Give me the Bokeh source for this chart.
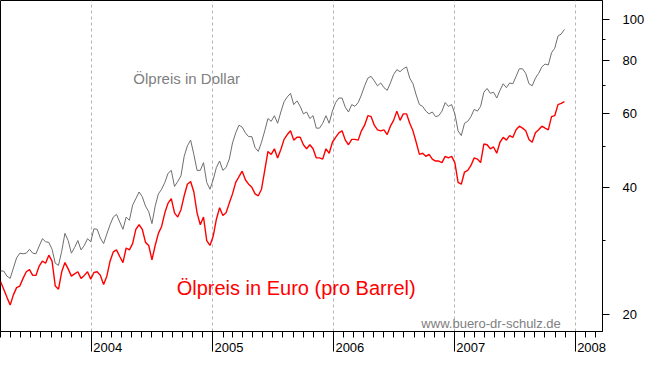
import pandas as pd
from bokeh.plotting import figure
from bokeh.models import Range1d, FixedTicker, PrintfTickFormatter, CustomJSTickFormatter, Label
from bokeh.embed import file_html
from bokeh.resources import INLINE

# ---- data (~10-day steps) ----
start_date = "2003-04-01"
end_date = "2007-11-29"

usd = [25.4, 25.4, 24.7, 24.4, 25.8, 27.3, 28.0, 27.9, 28.0, 28.6,
       28.0, 27.9, 29.1, 30.3, 29.8, 29.7, 28.6, 26.5, 26.2, 28.3,
       31.2, 30.0, 28.0, 28.9, 30.0, 28.5, 29.2, 30.3, 29.8, 32.0,
       31.9, 30.4, 29.5, 31.1, 32.7, 34.1, 34.6, 33.2, 31.9, 34.1,
       33.5, 36.4, 37.7, 39.1, 38.1, 36.2, 35.1, 32.9, 36.2, 38.7,
       39.7, 41.2, 43.3, 44.0, 40.3, 41.4, 42.7, 47.5, 50.3, 51.9,
       48.0, 44.0, 44.0, 45.9, 41.2, 39.7, 41.8, 44.7, 46.3, 44.0,
       44.7, 46.8, 51.1, 54.0, 56.3, 55.7, 54.0, 52.9, 52.9, 49.8,
       48.8, 51.3, 54.6, 58.4, 57.5, 59.3, 56.9, 60.5, 64.0, 65.7,
       67.0, 63.0, 64.3, 62.4, 59.9, 60.5, 58.4, 59.3, 55.4, 55.4,
       56.9, 59.3, 56.9, 60.8, 63.7, 65.3, 65.3, 62.1, 60.5, 63.0,
       62.4, 63.7, 66.4, 69.8, 72.8, 73.5, 71.7, 69.8, 70.9, 69.1,
       68.1, 70.9, 74.3, 76.2, 75.4, 76.6, 77.4, 72.8, 70.6, 66.4,
       63.0, 62.4, 60.8, 59.9, 60.5, 59.0, 59.3, 60.8, 63.7, 62.4,
       63.0, 59.9, 54.6, 53.2, 56.9, 57.5, 59.0, 61.4, 60.8, 62.4,
       67.4, 68.8, 67.0, 67.4, 65.3, 68.1, 70.6, 69.1, 70.9, 70.6,
       73.5, 76.6, 76.6, 74.7, 70.6, 69.8, 72.8, 74.7, 77.4, 78.6,
       78.2, 83.6, 85.7, 91.6, 92.6, 95.0]

eur = [24.0, 23.0, 22.0, 21.1, 22.3, 23.2, 23.4, 24.4, 25.3, 25.6,
       24.8, 24.8, 26.1, 26.8, 26.5, 27.7, 26.8, 23.4, 23.0, 25.3,
       26.6, 25.7, 24.7, 25.0, 25.3, 24.4, 24.8, 25.3, 24.3, 25.2,
       25.3, 24.8, 23.6, 24.7, 26.8, 28.2, 28.5, 27.5, 26.6, 28.8,
       28.5, 29.5, 31.9, 32.7, 31.9, 29.7, 29.2, 27.0, 29.2, 31.2,
       32.4, 34.9, 36.8, 37.7, 34.9, 34.1, 35.5, 38.3, 40.8, 41.4,
       39.1, 34.9, 32.7, 34.1, 30.0, 29.2, 30.7, 33.7, 35.9, 34.4,
       34.9, 36.8, 38.7, 41.2, 42.5, 43.8, 41.8, 40.8, 40.1, 38.7,
       38.3, 39.7, 44.0, 48.8, 48.0, 49.5, 47.1, 49.3, 52.1, 53.5,
       54.6, 51.9, 52.7, 52.7, 50.6, 49.5, 50.6, 49.5, 47.1, 47.1,
       46.8, 49.5, 48.3, 51.3, 52.7, 54.0, 54.6, 51.9, 50.6, 52.1,
       52.1, 51.9, 54.6, 56.3, 59.3, 59.0, 56.3, 54.9, 54.6, 54.9,
       53.5, 56.0, 57.8, 60.8, 57.8, 59.9, 59.9, 56.9, 54.6, 51.3,
       48.0, 48.3, 47.5, 48.0, 46.8, 46.3, 46.3, 45.9, 47.5, 47.1,
       47.5, 45.9, 41.2, 40.8, 43.6, 44.0, 45.2, 47.1, 46.8, 45.9,
       50.8, 50.6, 49.5, 50.0, 48.3, 51.3, 52.7, 51.9, 53.2, 52.7,
       54.9, 56.0, 55.4, 54.6, 52.1, 51.3, 54.0, 54.9, 56.0, 55.4,
       54.9, 59.0, 59.3, 63.0, 63.4, 64.0]

year_ticks = ["2004-01-01", "2005-01-01", "2006-01-01", "2007-01-01", "2008-01-01"]
y_ticks = [20, 40, 60, 80, 100]
y_minor_ticks = [30, 50, 70, 90]

label_usd = "Ölpreis in Dollar"
label_eur = "Ölpreis in Euro (pro Barrel)"
watermark = "www.buero-dr-schulz.de"

# ---- chart ----
def ms(s):
    return pd.Timestamp(s).value / 1e6

dates = pd.date_range(start_date, end_date, periods=len(usd))
month_ticks = [ms(d) for d in pd.date_range("2003-04-01", "2008-03-01", freq="MS")]

FONT = "Liberation Sans"

p = figure(width=647, height=357, x_axis_type="datetime", y_axis_type="log",
           y_axis_location="right",
           x_range=Range1d(ms("2003-04-01"), ms("2008-03-23")),
           y_range=Range1d(18.26, 111.2),
           output_backend="svg", toolbar_location=None,
           min_border_left=0, min_border_top=0, min_border_right=0, min_border_bottom=0)

p.background_fill_color = "white"
p.border_fill_color = "white"
p.outline_line_color = "black"
p.outline_line_width = 1

xt = FixedTicker(ticks=[ms(d) for d in year_ticks], minor_ticks=month_ticks)
p.xaxis.ticker = xt
p.xgrid.ticker = xt
p.xaxis.formatter = CustomJSTickFormatter(
    code="return '\u00a0'.repeat(9) + new Date(tick).getUTCFullYear();")
p.xaxis.major_tick_in = 0
p.xaxis.major_tick_out = 20
p.xaxis.minor_tick_in = 0
p.xaxis.minor_tick_out = 6
p.xaxis.major_label_standoff = -12

p.yaxis.ticker = FixedTicker(ticks=y_ticks, minor_ticks=y_minor_ticks)
p.yaxis.formatter = PrintfTickFormatter(format="%d")
p.yaxis.major_tick_in = 0
p.yaxis.major_tick_out = 7
p.yaxis.minor_tick_in = 0
p.yaxis.minor_tick_out = 3
p.yaxis.major_label_standoff = 13

for ax in (p.xaxis, p.yaxis):
    ax.axis_line_color = "black"
    ax.major_tick_line_color = "black"
    ax.minor_tick_line_color = "black"
    ax.major_label_text_font = FONT
    ax.major_label_text_font_size = "13px"
    ax.major_label_text_color = "black"

p.xgrid.grid_line_color = "#b4b4b4"
p.xgrid.grid_line_dash = "3 3"
p.ygrid.grid_line_color = None

p.line(dates, usd, line_color="#6e6e6e", line_width=1)
p.line(dates, eur, line_color="#ff0000", line_width=1.4)

p.add_layout(Label(x=ms("2004-05-06"), y=72.8, text=label_usd, text_font=FONT,
                   text_font_size="15px", text_color="#808080", text_baseline="alphabetic"))
p.add_layout(Label(x=ms("2004-09-14"), y=23.2, text=label_eur, text_font=FONT,
                   text_font_size="20px", text_color="#ff0000", text_baseline="alphabetic"))
p.add_layout(Label(x=ms("2006-09-23"), y=19.08, text=watermark, text_font=FONT,
                   text_font_size="13px", text_color="#808080", text_baseline="alphabetic"))

open("out.html", "w").write(file_html(p, INLINE))
